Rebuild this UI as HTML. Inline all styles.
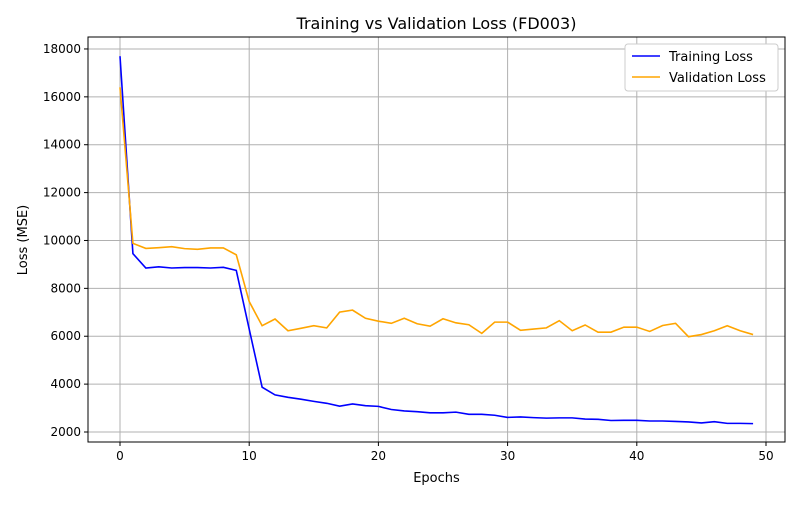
<!DOCTYPE html>
<html><head><meta charset="utf-8"><style>
body{margin:0;background:#fff;font-family:"Liberation Sans","DejaVu Sans",sans-serif;}
</style></head><body>
<svg id="chart" width="800" height="500" xmlns="http://www.w3.org/2000/svg" font-family="DejaVu Sans, Liberation Sans, sans-serif"></svg>
<script>
const epochs = Array.from({length:50},(_,i)=>i);
const trainLoss = [17700,9450,8850,8900,8850,8870,8870,8850,8880,8750,6300,3870,3550,3450,3370,3280,3200,3080,3170,3100,3070,2940,2880,2850,2800,2800,2830,2740,2740,2700,2610,2630,2600,2580,2590,2590,2540,2530,2480,2490,2490,2460,2460,2440,2420,2380,2430,2360,2360,2350];
const valLoss = [16400,9880,9670,9700,9740,9660,9630,9690,9690,9400,7450,6440,6720,6230,6330,6440,6350,7010,7090,6750,6630,6540,6750,6520,6420,6730,6560,6480,6120,6590,6590,6250,6300,6350,6650,6230,6470,6170,6170,6380,6380,6200,6450,6540,5980,6070,6230,6440,6230,6070];
const xTicks = [0,10,20,30,40,50];
const yTicks = [2000,4000,6000,8000,10000,12000,14000,16000,18000];
const NS="http://www.w3.org/2000/svg";
const svg=document.getElementById('chart');
const L=88,R=785,T=37,B=442;
const xs=v=>120+v*12.92;
const ys=v=>432-(v-2000)*0.02394;
function mk(tag,attrs,parent){const e=document.createElementNS(NS,tag);for(const k in attrs)e.setAttribute(k,attrs[k]);(parent||svg).appendChild(e);return e;}
const grid=mk('g',{});


xTicks.forEach(t=>{const x=xs(t);
 const l=mk('line',{x1:x,x2:x,y1:T,y2:B,stroke:'#b0b0b0','stroke-width':1},grid);
 
 
 mk('line',{x1:x,x2:x,y1:B,y2:B+4,stroke:'#000'});
 const tx=mk('text',{x:x,y:B+18,'text-anchor':'middle','font-size':12});tx.textContent=t;
 
 
});
yTicks.forEach(t=>{const y=ys(t);
 const l=mk('line',{x1:L,x2:R,y1:y,y2:y,stroke:'#b0b0b0','stroke-width':1},grid);
 
 
 mk('line',{x1:L-4,x2:L,y1:y,y2:y,stroke:'#000'});
 const tx=mk('text',{x:L-7,y:y+4,'text-anchor':'end','font-size':12});tx.textContent=t;
 
 
});
function line(data,color,name){const p=mk('polyline',{points:data.map((v,i)=>xs(epochs[i])+','+ys(v)).join(' '),fill:'none',stroke:color,'stroke-width':1.6});
 
 }
line(trainLoss,'#0000ff','training-loss-line');
line(valLoss,'#ffa500','validation-loss-line');
const frame=mk('rect',{x:L,y:T,width:R-L,height:B-T,fill:'none',stroke:'#000','stroke-width':1});


const title=mk('text',{x:(L+R)/2,y:29,'text-anchor':'middle','font-size':16});title.textContent='Training vs Validation Loss (FD003)';


const xl=mk('text',{x:(L+R)/2,y:482,'text-anchor':'middle','font-size':13});xl.textContent='Epochs';


const yl=mk('text',{x:27,y:240,'text-anchor':'middle','font-size':13,transform:'rotate(-90 27 240)'});yl.textContent='Loss (MSE)';


const lg=mk('g',{});


mk('rect',{x:625,y:44,width:153,height:47,rx:3,fill:'#fff',stroke:'#ccc'},lg);
[['Training Loss','#0000ff',56],['Validation Loss','#ffa500',77]].forEach(([n,c,y])=>{
 const e=mk('g',{},lg);
 
 
 mk('line',{x1:632,x2:660,y1:y,y2:y,stroke:c,'stroke-width':1.6},e);
 const t=mk('text',{x:669,y:y+5,'font-size':13},e);t.textContent=n;
});
</script>
</body></html>
